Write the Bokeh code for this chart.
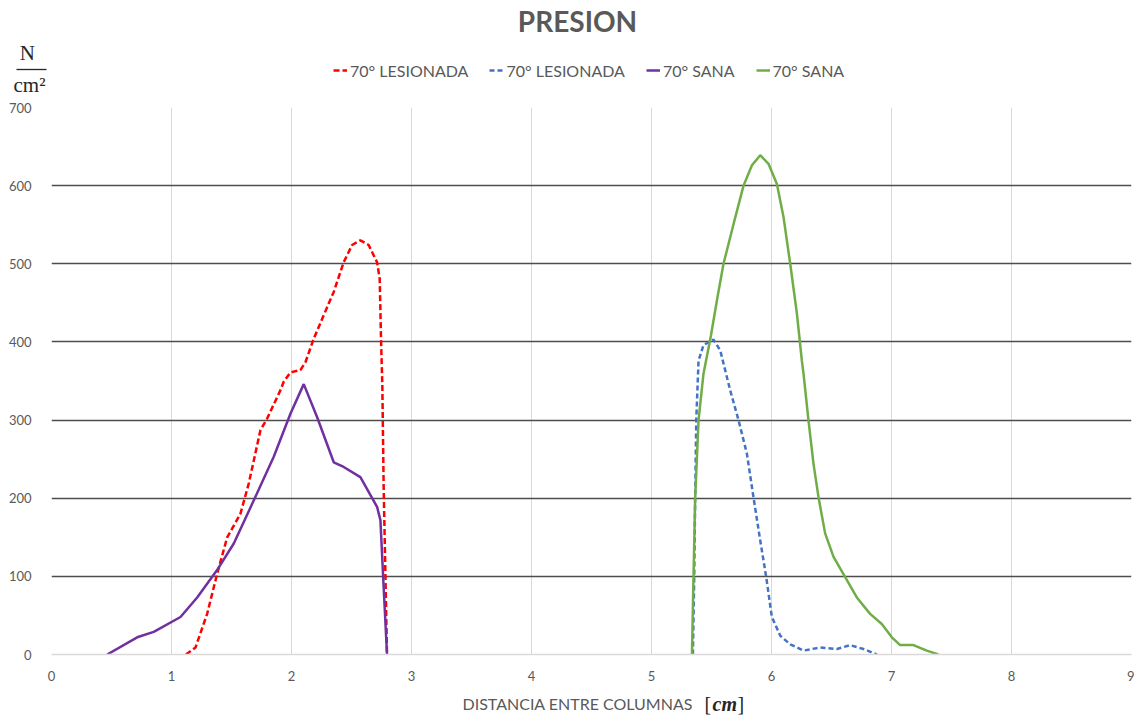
from bokeh.plotting import figure
from bokeh.layouts import column
from bokeh.models import Legend, LegendItem, FixedTicker, Range1d, LinearAxis
from bokeh.core.properties import value
from bokeh.embed import file_html
from bokeh.resources import INLINE

# ---- data ----
red_x = [1.12, 1.20, 1.297, 1.38, 1.464, 1.505, 1.574, 1.644, 1.741, 1.797, 1.907, 1.935, 1.991, 2.074,
         2.116, 2.185, 2.268, 2.352, 2.435, 2.505, 2.574, 2.643, 2.713, 2.735, 2.746, 2.757, 2.768, 2.796]
red_y = [0, 9, 52, 103, 150, 161, 180, 219, 287, 302, 338, 349, 361, 364,
         374, 404, 434, 464, 502, 524, 530, 524, 502, 481, 404, 344, 214, 0]

purple_x = [0.464, 0.714, 0.852, 1.075, 1.214, 1.380, 1.519, 1.685, 1.852, 1.991, 2.102, 2.213,
            2.352, 2.435, 2.574, 2.713, 2.741, 2.768, 2.796]
purple_y = [0, 22, 29, 48, 73, 108, 142, 197, 253, 308, 346, 304,
            246, 240, 227, 189, 172, 86, 0]

green_x = [5.337, 5.350, 5.364, 5.392, 5.433, 5.495, 5.545, 5.60, 5.684, 5.767, 5.837, 5.906, 5.975,
           6.045, 6.10, 6.156, 6.212, 6.253, 6.267, 6.308, 6.35, 6.392, 6.447, 6.517, 6.614, 6.711,
           6.822, 6.919, 7.003, 7.072, 7.183, 7.294, 7.391]
green_y = [0, 99, 201, 300, 359, 408, 453, 500, 551, 600, 626, 639, 628,
           602, 560, 500, 436, 376, 359, 300, 244, 201, 155, 125, 99, 73,
           52, 39, 22, 12, 12, 5, 0]

blue_x = [5.345, 5.356, 5.364, 5.373, 5.392, 5.433, 5.517, 5.573, 5.656, 5.725, 5.795, 5.85, 5.906,
          5.956, 6.003, 6.073, 6.156, 6.267, 6.406, 6.545, 6.656, 6.767, 6.878]
blue_y = [0, 99, 201, 300, 376, 396, 403, 389, 338, 300, 257, 201, 146,
          99, 48, 24, 13, 5, 9, 7, 12, 7, 0]

x_ticks = [0, 1, 2, 3, 4, 5, 6, 7, 8, 9]
y_ticks = [0, 100, 200, 300, 400, 500, 600, 700]
series_labels = ["70° LESIONADA", "70° LESIONADA", "70° SANA", "70° SANA"]
series_colors = ["#ff0000", "#4472c4", "#7030a0", "#70ad47"]
series_dash = ["6 3", "5 3", "solid", "solid"]

title_text = "PRESION"
x_title = "DISTANCIA ENTRE COLUMNAS"
x_unit = "cm"
y_unit_num = "N\u2002"
y_unit_den = "cm\u00b2"

FONT = "Lato"
SERIF = "Liberation Serif"
GRAY = "#595959"
W = 1134
LEFT = 51      # frame left (page px) - column layout aligns all frames to the main plot
RIGHT = 1131   # frame right (page px)
TOP_H = 97
MAIN_H = 593
BOT_H = 27


def blank(h):
    # page-pixel coordinate system over the aligned frame
    f = figure(width=W, height=h, output_backend="svg", toolbar_location=None,
               x_range=Range1d(LEFT, RIGHT), y_range=Range1d(h, 0),
               x_axis_location=None, y_axis_location=None,
               min_border=0, min_border_left=LEFT, min_border_right=W - RIGHT,
               min_border_top=0, min_border_bottom=0)
    f.grid.visible = False
    f.outline_line_color = None
    f.background_fill_color = "white"
    f.border_fill_color = "white"
    return f


# ---- top: title, unit, legend ----
top = blank(TOP_H)
top.text(x=[577], y=[20], text=[title_text], text_align="center", text_baseline="middle",
         text_font=value(FONT), text_font_size="28px", text_font_style="bold", text_color=GRAY)

# unit N / cm2 drawn in the left border by an axis (labels) with a minor tick as fraction bar
unit_axis = LinearAxis(ticker=FixedTicker(ticks=[52, 84], minor_ticks=[69]),
                       major_label_overrides={52: y_unit_num, 84: y_unit_den},
                       major_label_text_font=SERIF, major_label_text_font_size="21px",
                       major_label_text_color="#262626", major_label_standoff=-29,
                       major_tick_line_color=None, major_tick_in=0, major_tick_out=0,
                       minor_tick_line_color="#262626", minor_tick_line_width=1.3,
                       minor_tick_in=-5, minor_tick_out=35, axis_line_color=None)
top.add_layout(unit_axis, "left")

nan = float("nan")
items = []
for lab, col, dash in zip(series_labels, series_colors, series_dash):
    r = top.line(x=[nan], y=[nan], line_color=col, line_width=2.5, line_dash=dash)
    items.append(LegendItem(label=lab, renderers=[r]))
legend = Legend(items=items, orientation="horizontal", location=(282, 17),
                label_text_font=FONT, label_text_font_size="16px", label_text_color=GRAY,
                glyph_width=14, glyph_height=20, label_standoff=3, spacing=21,
                padding=0, margin=0, border_line_color=None, background_fill_alpha=0)
top.add_layout(legend, "center")

# ---- main plot ----
p = figure(width=W, height=MAIN_H, output_backend="svg", toolbar_location=None,
           x_range=Range1d(0, 9), y_range=Range1d(0, 700),
           min_border_left=LEFT, min_border_right=W - RIGHT, min_border_top=10, min_border_bottom=36)
p.outline_line_color = None
p.background_fill_color = "white"
p.border_fill_color = "white"

p.xgrid.ticker = FixedTicker(ticks=x_ticks)
p.xgrid.grid_line_color = "#d9d9d9"
p.xgrid.grid_line_width = 1
p.ygrid.ticker = FixedTicker(ticks=y_ticks[1:])
p.ygrid.grid_line_color = "#4d4d4d"
p.ygrid.grid_line_width = 1.6

p.xaxis.ticker = FixedTicker(ticks=x_ticks)
p.yaxis.ticker = FixedTicker(ticks=y_ticks)
for ax in (p.xaxis[0], p.yaxis[0]):
    ax.major_tick_line_color = None
    ax.minor_tick_line_color = None
    ax.major_label_text_font = FONT
    ax.major_label_text_font_size = "13px"
    ax.major_label_text_color = GRAY
p.yaxis.axis_line_color = None
p.yaxis.major_label_standoff = 14
p.xaxis.axis_line_color = "#d9d9d9"
p.xaxis.axis_line_width = 1.5
p.xaxis.major_label_standoff = 10

p.line(red_x, red_y, line_color=series_colors[0], line_width=2.5, line_dash=series_dash[0])
p.line(blue_x, blue_y, line_color=series_colors[1], line_width=2.5, line_dash=series_dash[1])
p.line(purple_x, purple_y, line_color=series_colors[2], line_width=2.5)
p.line(green_x, green_y, line_color=series_colors[3], line_width=2.5)

# ---- bottom: x axis title ----
bot = blank(BOT_H)
bot.text(x=[462], y=[13], text=[x_title], text_align="left", text_baseline="middle",
         text_font=value(FONT), text_font_size="16px", text_color=GRAY)
bot.text(x=[704], y=[13], text=["["], text_align="left", text_baseline="middle",
         text_font=value(SERIF), text_font_size="20px", text_color="#262626")
bot.text(x=[712], y=[13], text=[x_unit], text_align="left", text_baseline="middle",
         text_font=value(SERIF), text_font_size="20px", text_font_style="bold italic",
         text_color="#262626")
bot.text(x=[737], y=[13], text=["]"], text_align="left", text_baseline="middle",
         text_font=value(SERIF), text_font_size="20px", text_color="#262626")

layout = column(top, p, bot, spacing=0)
open("out.html", "w").write(file_html(layout, INLINE))
